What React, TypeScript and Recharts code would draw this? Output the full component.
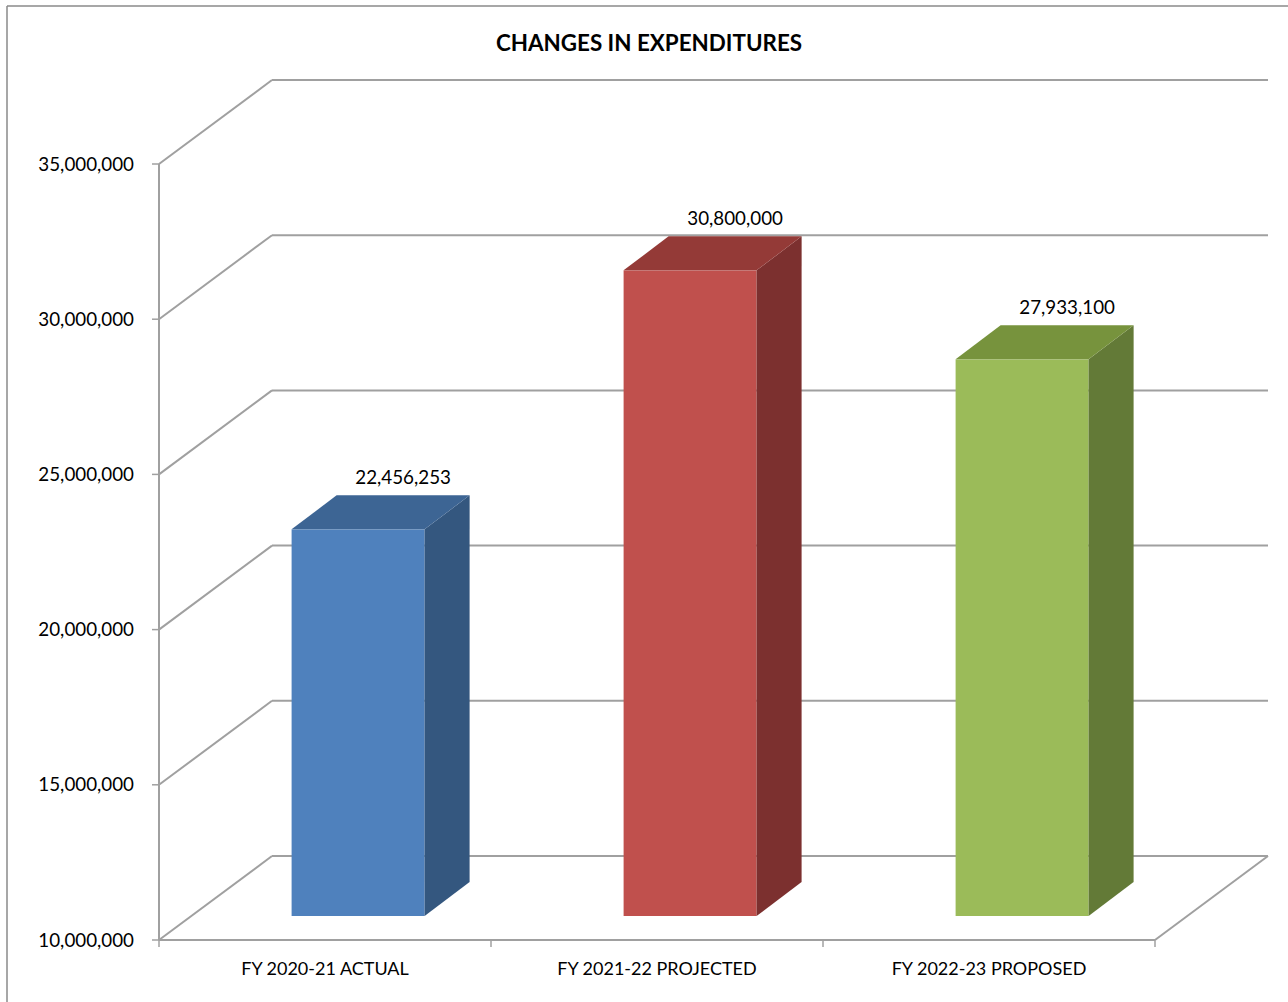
import React from 'react';
import { BarChart, Bar, XAxis, YAxis, CartesianGrid, LabelList } from 'recharts';

const categories = ['FY 2020-21 ACTUAL', 'FY 2021-22 PROJECTED', 'FY 2022-23 PROPOSED'];
const expenditures = [22456253, 30800000, 27933100];
const yTicks = [10000000, 15000000, 20000000, 25000000, 30000000, 35000000];
const title = 'CHANGES IN EXPENDITURES';

const data = categories.map((name, i) => ({ name, value: expenditures[i] }));

const FRONT = ['#4F81BD', '#C0504D', '#9BBB59'];
const TOP = ['#3D6594', '#943A37', '#77933D'];
const SIDE = ['#34577F', '#7C302F', '#637A37'];

const WALL_DX = 113;
const WALL_DY = -84;
const BAR_FX = 33;
const BAR_FY = -24;
const BAR_DX = 45;
const BAR_DY = -34;
const GRID = '#A0A0A0';
const FONT = 'Lato, "Open Sans", sans-serif';
const fmt = (v: number) => Number(v).toLocaleString('en-US');

const GridLine = (props: any) => {
  const { x1, y1, x2 } = props;
  return (
    <g>
      <line x1={x1} y1={y1} x2={x1 + WALL_DX} y2={y1 + WALL_DY} stroke={GRID} strokeWidth={2} />
      <line x1={x1 + WALL_DX} y1={y1 + WALL_DY} x2={x2 + WALL_DX} y2={y1 + WALL_DY} stroke={GRID} strokeWidth={2} />
    </g>
  );
};

const Bar3D = (props: any) => {
  const { x, y, width, height, index } = props;
  const fx = x + BAR_FX;
  const fy = y + BAR_FY;
  const top = `${fx},${fy} ${fx + BAR_DX},${fy + BAR_DY} ${fx + width + BAR_DX},${fy + BAR_DY} ${fx + width},${fy}`;
  const side = `${fx + width},${fy} ${fx + width + BAR_DX},${fy + BAR_DY} ${fx + width + BAR_DX},${fy + height + BAR_DY} ${fx + width},${fy + height}`;
  return (
    <g>
      <rect x={fx} y={fy} width={width} height={height} fill={FRONT[index]} />
      <polygon points={side} fill={SIDE[index]} />
      <polygon points={top} fill={TOP[index]} />
    </g>
  );
};

const BarLabel = (props: any) => {
  const { x, y, width, value } = props;
  return (
    <text
      x={x + width / 2 + BAR_FX + BAR_DX}
      y={y + BAR_FY + BAR_DY - 11}
      textAnchor="middle"
      fontFamily={FONT}
      fontSize={18.8}
      fill="#000"
    >
      {fmt(value)}
    </text>
  );
};

const XTick = (props: any) => {
  const { x, y, payload, index, width, visibleTicksCount } = props;
  const count = visibleTicksCount || categories.length;
  const band = (width || 996) / count;
  const axisY = y - 8;
  const left = x - band / 2;
  const right = x + band / 2;
  const isLast = index === count - 1;
  return (
    <g>
      <line x1={left} y1={axisY} x2={left} y2={axisY + 7} stroke={GRID} strokeWidth={1.5} />
      {isLast && (
        <g>
          <line x1={right} y1={axisY} x2={right} y2={axisY + 7} stroke={GRID} strokeWidth={1.5} />
          <line x1={right} y1={axisY} x2={right + WALL_DX} y2={axisY + WALL_DY} stroke={GRID} strokeWidth={2} />
        </g>
      )}
      <text x={x} y={y + 27} textAnchor="middle" fontFamily={FONT} fontSize={18} fill="#000">
        {payload.value}
      </text>
    </g>
  );
};

export default function App() {
  return (
    <div style={{ position: 'absolute', left: 0, top: 0, width: 1288, height: 1002, background: '#fff' }}>
      <svg width={1288} height={1002} style={{ position: 'absolute', left: 0, top: 0 }}>
        <line x1={7} y1={6} x2={7} y2={1002} stroke="#8A8A8A" strokeWidth={1.5} />
        <line x1={7} y1={6} x2={1288} y2={6} stroke="#8A8A8A" strokeWidth={1.5} />
        <text x={649} y={51} textAnchor="middle" fontFamily={FONT} fontWeight={700} fontSize={22.4} fill="#000">
          {title}
        </text>
      </svg>
      <div style={{ position: 'absolute', left: 0, top: 0 }}>
        <BarChart
          width={1288}
          height={1002}
          data={data}
          margin={{ top: 164, right: 133, bottom: 32, left: 9 }}
          barCategoryGap="30%"
        >
          <CartesianGrid vertical={false} horizontal={GridLine} stroke={GRID} />
          <XAxis
            dataKey="name"
            height={30}
            tickSize={6}
            tickMargin={2}
            tickLine={false}
            axisLine={{ stroke: GRID, strokeWidth: 2 }}
            tick={XTick}
            interval={0}
          />
          <YAxis
            width={150}
            domain={[10000000, 35000000]}
            ticks={yTicks}
            type="number"
            allowDataOverflow
            tickFormatter={fmt}
            tickSize={7}
            tickMargin={18}
            axisLine={{ stroke: GRID, strokeWidth: 2 }}
            tickLine={{ stroke: GRID, strokeWidth: 1.5 }}
            tick={{ fontFamily: FONT, fontSize: 18.8, fill: '#000' }}
          />
          <Bar dataKey="value" shape={Bar3D} isAnimationActive={false}>
            <LabelList dataKey="value" content={BarLabel} />
          </Bar>
        </BarChart>
      </div>
    </div>
  );
}
